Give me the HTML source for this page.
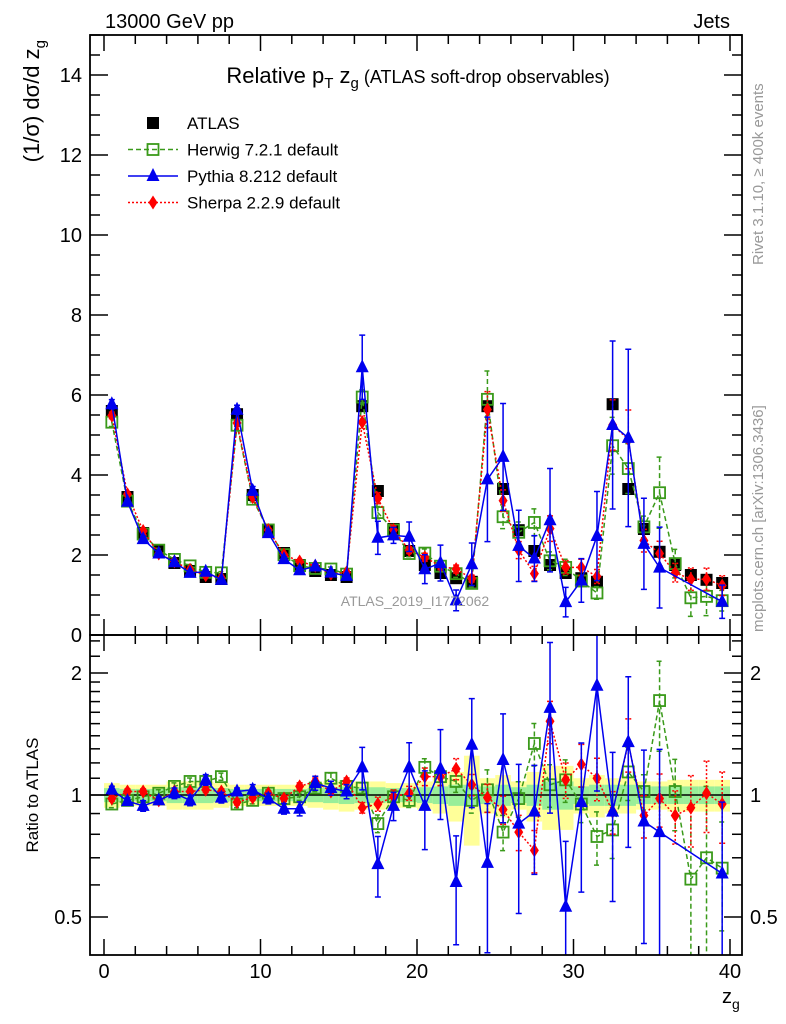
<!DOCTYPE html>
<html><head><meta charset="utf-8"><style>
body{margin:0;background:#fff;width:786px;height:1024px;overflow:hidden}
svg{display:block;font-family:"Liberation Sans",sans-serif}
</style></head><body>
<svg id="chart" width="786" height="1024" viewBox="0 0 786 1024" xmlns="http://www.w3.org/2000/svg">
<defs>
<clipPath id="clipMain"><rect x="90" y="35" width="652" height="600"/></clipPath>
<clipPath id="clipRatio"><rect x="90" y="635" width="652" height="320"/></clipPath>
</defs>
<g id="bands" clip-path="url(#clipRatio)"></g>
<g id="series"></g>
<g id="axes"></g>
<text x="105" y="28" font-size="20">13000 GeV pp</text>
<text x="730" y="28" font-size="20" text-anchor="end">Jets</text>
<text x="418" y="83" font-size="22" text-anchor="middle">Relative p<tspan font-size="15" dy="5">T</tspan><tspan dy="-5"> z</tspan><tspan font-size="15" dy="5">g</tspan><tspan dy="-5" font-size="18"> (ATLAS soft-drop observables)</tspan></text>
<text transform="translate(39,40) rotate(-90)" font-size="22" text-anchor="end">(1/σ) dσ/d z<tspan font-size="15" dy="6">g</tspan></text>
<text transform="translate(38,795) rotate(-90)" font-size="17" text-anchor="middle">Ratio to ATLAS</text>
<text x="722" y="1003" font-size="20">z<tspan font-size="14" dy="6">g</tspan></text>
<text transform="translate(763,265) rotate(-90)" font-size="15" fill="#999">Rivet 3.1.10, ≥ 400k events</text>
<text transform="translate(763,632) rotate(-90)" font-size="15" fill="#999">mcplots.cern.ch [arXiv:1306.3436]</text>
<text x="415" y="606" font-size="14" fill="#999" text-anchor="middle">ATLAS_2019_I1772062</text>
<g id="legend"></g>
</svg>
<script>
const binCenters = [0.5,1.5,2.5,3.5,4.5,5.5,6.5,7.5,8.5,9.5,10.5,11.5,12.5,13.5,14.5,15.5,16.5,17.5,18.5,19.5,20.5,21.5,22.5,23.5,24.5,25.5,26.5,27.5,28.5,29.5,30.5,31.5,32.5,33.5,34.5,35.5,36.5,37.5,38.5,39.5];
const atlasValues = [5.6,3.45,2.55,2.1,1.8,1.6,1.45,1.4, 5.52,3.5,2.6,2.05,1.75,1.6,1.5,1.45, 5.72,3.6,2.65,2.1,1.75,1.55,1.42,1.33, 5.72,3.65,2.62,2.1,1.75,1.55,1.42,1.33, 5.77,3.65,2.65,2.08,1.75,1.5,1.38,1.3];
const herwigRatio = [0.95,0.97,0.99,1.01,1.05,1.08,1.08,1.11, 0.95,0.97,1.01,0.98,0.99,1.04,1.1,1.05, 1.04,0.85,0.99,0.97, 1.17,1.11,1.08,0.97, 1.03,0.81,0.98,1.34, 1.06,1.09,0.95,0.79, 0.82,1.14,1.02,1.71, 1.02,0.62,0.7,0.66];
const pythiaRatio = [1.03,0.966,0.94,0.97,1.01,0.97,1.09,0.985, 1.02,1.03,0.98,0.925,0.925,1.07,1.04,1.02, 1.17,0.675,0.94,1.17, 0.94,1.16,0.61,1.33, 0.68,1.22,0.85,0.91, 1.64,0.53,0.96,1.86, 0.91,1.35,0.86,0.81, null,null,null,0.64];
const sherpaRatio = [0.98,1.02,1.02,0.97,1.02,1.02,1.03,1.02, 0.96,0.985,1.01,0.98,1.05,1.08,1.02,1.08, 0.93,0.95,0.99,1.01, 1.11,1.11,1.16,1.06, 0.985,0.92,0.81,0.73, 1.52,1.09,1.19,1.1, 0.91,1.34,0.89,0.98, 0.89,0.93,1.01,0.95];
const herwigErr = [0.02,0.02,0.02,0.02,0.02,0.02,0.02,0.02, 0.02,0.02,0.02,0.02,0.02,0.02,0.03,0.03, 0.03,0.05,0.04,0.04, 0.05,0.05,0.06,0.07, 0.12,0.1,0.1,0.12, 0.12,0.12,0.1,0.15, 0.15,0.15,0.1,0.25, 0.2,0.5,0.5,0.3];
const pythiaErr = [0.02,0.02,0.03,0.02,0.03,0.03,0.03,0.03, 0.02,0.03,0.03,0.03,0.04,0.04,0.04,0.04, 0.12,0.17,0.08,0.15, 0.22,0.25,0.3,0.3, 0.4,0.3,0.4,0.3, 0.45,0.45,0.4,0.45, 0.4,0.45,0.5,0.6, 0,0,0,0.5];
const sherpaErr = [0.015,0.015,0.015,0.015,0.015,0.015,0.015,0.015, 0.015,0.015,0.015,0.015,0.02,0.02,0.02,0.02, 0.03,0.04,0.04,0.04, 0.05,0.05,0.06,0.06, 0.08,0.08,0.1,0.12, 0.12,0.1,0.12,0.12, 0.12,0.15,0.12,0.15, 0.15,0.2,0.2,0.2];
const yellowBand = [0.07,0.06,0.06,0.06,0.08,0.08,0.08,0.07, 0.06,0.06,0.06,0.06,0.06,0.07,0.08,0.09, 0.08,0.08,0.07,0.07, 0.08,0.1,0.14,0.25, 0.1,0.12,0.08,0.14, 0.18,0.18,0.1,0.12, 0.1,0.1,0.08,0.08, 0.09,0.09,0.09,0.09];
const greenBand = [0.04,0.035,0.035,0.035,0.045,0.045,0.045,0.04, 0.035,0.035,0.035,0.035,0.035,0.04,0.045,0.05, 0.045,0.045,0.04,0.04, 0.045,0.05,0.06,0.06, 0.05,0.06,0.045,0.06, 0.08,0.08,0.05,0.06, 0.06,0.06,0.05,0.05, 0.05,0.05,0.05,0.05];
const mainTicks = [0,2,4,6,8,10,12,14];
const ratioTicks = [0.5,1,2];
const xTicks = [0,10,20,30,40];

const NS = "http://www.w3.org/2000/svg";
const X = v => 104 + v*15.65;
const Y = v => 635 - 40*v;
const R = r => 795 - 122*Math.log2(r);
function mk(tag, attrs, parent){const e=document.createElementNS(NS,tag);for(const k in attrs)e.setAttribute(k,attrs[k]);parent.appendChild(e);return e;}

const bands = document.getElementById('bands');
binCenters.forEach((c,i)=>{
  const x0=X(c-0.5), w=15.65;
  const y = mk('rect',{x:x0,y:R(1+yellowBand[i]),width:w,height:R(1-yellowBand[i])-R(1+yellowBand[i]),fill:'#ffff99'},bands);
  
  
  const g = mk('rect',{x:x0,y:R(1+greenBand[i]),width:w,height:R(1-greenBand[i])-R(1+greenBand[i]),fill:'#99ee99'},bands);
  
  
});
const one = mk('line',{x1:90,x2:742,y1:R(1),y2:R(1),stroke:'#000','stroke-width':1.5},bands);



const series = document.getElementById('series');
function marker(type,x,y,color,parent){
  let e;
  if(type==='sq') e=mk('rect',{x:x-6,y:y-6,width:12,height:12,fill:'#000'},parent);
  else if(type==='osq') e=mk('rect',{x:x-5.5,y:y-5.5,width:11,height:11,fill:'none',stroke:color,'stroke-width':1.8},parent);
  else if(type==='tri') e=mk('polygon',{points:`${x},${y-8} ${x-6.5},${y+5} ${x+6.5},${y+5}`,fill:color},parent);
  else e=mk('polygon',{points:`${x},${y-7} ${x-4.5},${y} ${x},${y+7} ${x+4.5},${y}`,fill:color},parent);
  return e;
}
function drawSeries(name,ratios,errs,color,dash,type,panel){
  const g = mk('g',{'clip-path':panel==='main'?'url(#clipMain)':'url(#clipRatio)'},series);
  
  
  const pts=[];
  binCenters.forEach((c,i)=>{
    const r=ratios[i]; if(r===null) return;
    const v = panel==='main'? atlasValues[i]*r : r;
    const f = panel==='main'? (a=>Y(a)) : (a=>R(a));
    const x=X(c), y=f(v);
    pts.push(`${x},${y}`);
    const e=errs[i];
    if(e>0){
      const lo = Math.max(v*(1-e), panel==='main'?0:0.3);
      const yt=f(v*(1+e)), yb=f(lo);
      const bar=mk('path',{d:`M${x},${yt}V${yb}M${x-3},${yt}H${x+3}M${x-3},${yb}H${x+3}`,stroke:color,'stroke-width':1.5,fill:'none','stroke-dasharray':dash},g);
      
      
    }
  });
  const line=mk('polyline',{points:pts.join(' '),fill:'none',stroke:color,'stroke-width':1.5,'stroke-dasharray':dash},g);
  
  
  binCenters.forEach((c,i)=>{
    const r=ratios[i]; if(r===null) return;
    const v = panel==='main'? atlasValues[i]*r : r;
    const y = panel==='main'? Y(v) : R(v);
    const m=marker(type,X(c),y,color,g);
    
    
  });
}
(function(){
  const g=mk('g',{'clip-path':'url(#clipMain)'},series);
  
  
  binCenters.forEach((c,i)=>{
    const m=marker('sq',X(c),Y(atlasValues[i]),'#000',g);
    
    
  });
})();
drawSeries('herwig',herwigRatio,herwigErr,'#3a9a1a','5,3','osq','main');
drawSeries('sherpa',sherpaRatio,sherpaErr,'#ff0000','2,2','dia','main');
drawSeries('pythia',pythiaRatio,pythiaErr,'#0000ee','','tri','main');
drawSeries('herwig',herwigRatio,herwigErr,'#3a9a1a','5,3','osq','ratio');
drawSeries('sherpa',sherpaRatio,sherpaErr,'#ff0000','2,2','dia','ratio');
drawSeries('pythia',pythiaRatio,pythiaErr,'#0000ee','','tri','ratio');

const ax=document.getElementById('axes');
function ln(x1,y1,x2,y2,name,w){const l=mk('line',{x1,y1,x2,y2,stroke:'#000','stroke-width':w||1.5},ax);return l;}
const f1=mk('rect',{x:90,y:35,width:652,height:600,fill:'none',stroke:'#000','stroke-width':1.8},ax);


const f2=mk('rect',{x:90,y:635,width:652,height:320,fill:'none',stroke:'#000','stroke-width':1.8},ax);


for(let v=0;v<=15;v+=0.5){
  const maj = Math.abs(v%2)<1e-9, len=maj?18:10, y=Y(v);
  ln(90,y,90+len,y,'y-tick'); ln(742,y,742-len,y,'y-tick');
}
mainTicks.forEach(v=>{
  const t=mk('text',{x:82,y:Y(v)+7,'font-size':20,'text-anchor':'end'},ax);t.textContent=v;
  
  
});
const rt=[0.4,0.5,0.6,0.7,0.8,0.9,1,1.1,1.2,1.3,1.4,1.5,1.6,1.7,1.8,1.9,2,2.2,2.4];
rt.forEach(r=>{const maj=ratioTicks.includes(r),len=maj?18:10,y=R(r);if(y<635||y>955)return;ln(90,y,90+len,y,'ratio-tick');ln(742,y,742-len,y,'ratio-tick');});
ratioTicks.forEach(r=>{
  const t=mk('text',{x:82,y:R(r)+7,'font-size':20,'text-anchor':'end'},ax);t.textContent=r;
  
  
  const t2=mk('text',{x:750,y:R(r)+7,'font-size':20},ax);t2.textContent=r;
  
  
});
for(let v=0;v<=40;v+=2){
  const maj=v%10===0,len=maj?16:9,x=X(v);
  ln(x,35,x,35+len,'x-tick');ln(x,635,x,635-len,'x-tick');ln(x,635,x,635+len,'x-tick');ln(x,955,x,955-len,'x-tick');
}
xTicks.forEach(v=>{
  const t=mk('text',{x:X(v),y:978,'font-size':20,'text-anchor':'middle'},ax);t.textContent=v;
  
  
});

const lg=document.getElementById('legend');
const entries=[['ATLAS','sq','#000',''],['Herwig 7.2.1 default','osq','#3a9a1a','5,3'],['Pythia 8.212 default','tri','#0000ee',''],['Sherpa 2.2.9 default','dia','#ff0000','2,2']];
entries.forEach((e,i)=>{
  const y=123+i*26.5;
  const g=mk('g',{},lg);
  
  
  if(i>0) mk('line',{x1:128,x2:178,y1:y,y2:y,stroke:e[2],'stroke-width':1.5,'stroke-dasharray':e[3]},g);
  marker(e[1],153,y,e[2],g);
  const t=mk('text',{x:187,y:y+6,'font-size':17},g);t.textContent=e[0];
});
</script>
</body></html>
